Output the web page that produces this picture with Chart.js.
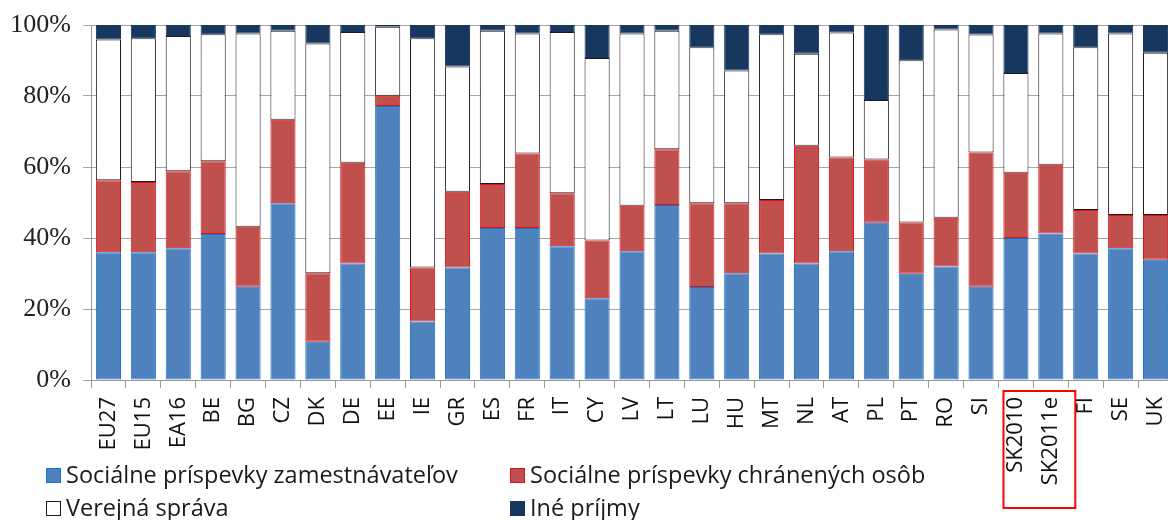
<!DOCTYPE html>
<html>
<head>
<meta charset="utf-8">
<script src="https://cdn.jsdelivr.net/npm/chart.js@4/dist/chart.umd.min.js"></script>
<style>
    html, body { margin: 0; padding: 0; background: #fff; overflow: hidden; }
    #revenueChart { display: block; }
</style>
</head>
<body>
<canvas id="revenueChart" width="1191" height="520"></canvas>
<script>
// Categories (countries / aggregates)
const COUNTRIES = ['EU27', 'EU15', 'EA16', 'BE', 'BG', 'CZ', 'DK', 'DE', 'EE', 'IE', 'GR', 'ES', 'FR', 'IT', 'CY',
    'LV', 'LT', 'LU', 'HU', 'MT', 'NL', 'AT', 'PL', 'PT', 'RO', 'SI', 'SK2010', 'SK2011e', 'FI', 'SE', 'UK'];

// Shares in % (stacked to 100)
const EMPLOYER = [36.0, 36.0, 37.1, 41.1, 26.3, 49.8, 10.8, 32.8, 77.2, 16.5, 31.7, 42.8, 42.8, 37.7, 23.0,
    36.3, 49.3, 26.2, 30.1, 35.6, 32.8, 36.3, 44.3, 29.9, 32.0, 26.3, 40.0, 41.3, 35.6, 37.1, 33.9];
const PROTECTED = [20.3, 19.8, 21.7, 20.5, 16.9, 23.5, 19.3, 28.4, 2.9, 15.2, 21.3, 12.4, 21.0, 14.9, 16.3,
    12.8, 15.7, 23.6, 19.7, 15.1, 33.2, 26.4, 17.8, 14.5, 13.7, 37.8, 18.4, 19.3, 12.3, 9.4, 12.6];
const GOVERNMENT = [39.6, 40.5, 38.1, 35.8, 54.4, 25.1, 64.7, 36.8, 19.4, 64.6, 35.3, 43.2, 33.8, 45.4, 51.4,
    48.5, 33.4, 43.9, 37.4, 46.7, 25.9, 35.2, 16.8, 45.7, 53.0, 33.2, 28.1, 37.0, 45.8, 51.1, 45.7];
const OTHER = [4.1, 3.7, 3.1, 2.6, 2.4, 1.6, 5.2, 2.0, 0.5, 3.7, 11.7, 1.6, 2.4, 2.0, 9.3,
    2.4, 1.6, 6.3, 12.8, 2.6, 8.1, 2.1, 21.1, 9.9, 1.3, 2.7, 13.5, 2.4, 6.3, 2.4, 7.8];

const Y_TICKS = [0, 20, 40, 60, 80, 100];

const SERIES = [
    { label: 'Sociálne príspevky zamestnávateľov', data: EMPLOYER, fill: '#4F81BD', border: '#1A75CF' },
    { label: 'Sociálne príspevky chránených osôb', data: PROTECTED, fill: '#C0504D', border: '#E01010' },
    { label: 'Verejná správa', data: GOVERNMENT, fill: '#FFFFFF', border: '#1a1a1a' },
    { label: 'Iné príjmy', data: OTHER, fill: '#17375E', border: '#17375E' }
];

const LABEL_FONT = '"Open Sans", Lato, sans-serif';

// Legend in two columns under the axis
const legendGrid = {
    id: 'legendGrid',
    afterDraw(chart) {
        const ctx = chart.ctx;
        const cols = [46, 510];
        const rows = [475, 508];
        ctx.save();
        ctx.font = '23.5px ' + LABEL_FONT;
        ctx.textBaseline = 'middle';
        SERIES.forEach((s, i) => {
            const x = cols[i % 2];
            const y = rows[Math.floor(i / 2)];
            ctx.fillStyle = s.fill;
            ctx.fillRect(x, y - 7, 15, 15);
            ctx.strokeStyle = s.border;
            ctx.lineWidth = 1;
            ctx.strokeRect(x + 0.5, y - 6.5, 14, 14);
            ctx.fillStyle = '#1a1a1a';
            ctx.fillText(s.label, x + 20, y + 1);
        });
        ctx.restore();
    }
};

// Red frame around the two Slovak labels
const skFrame = {
    id: 'skFrame',
    afterDraw(chart) {
        const xs = chart.scales.x;
        const half = (xs.getPixelForValue(1) - xs.getPixelForValue(0)) / 2;
        const i0 = COUNTRIES.indexOf('SK2010');
        const i1 = COUNTRIES.indexOf('SK2011e');
        const left = xs.getPixelForValue(i0) - half + 5;
        const right = xs.getPixelForValue(i1) + half + 7;
        const top = chart.chartArea.bottom + 11;
        const ctx = chart.ctx;
        ctx.save();
        ctx.strokeStyle = '#FF0000';
        ctx.lineWidth = 2;
        ctx.strokeRect(left, top, right - left, 508 - top);
        ctx.restore();
    }
};

const ctx = document.getElementById('revenueChart').getContext('2d');
new Chart(ctx, {
    type: 'bar',
    data: {
        labels: COUNTRIES,
        datasets: SERIES.map(s => ({
            label: s.label,
            data: s.data,
            backgroundColor: s.fill,
            borderColor: s.border,
            borderWidth: 1,
            borderSkipped: false,
            barPercentage: 0.72,
            categoryPercentage: 1.0
        }))
    },
    options: {
        responsive: false,
        animation: false,
        layout: { padding: { top: 14, right: 3, left: 0, bottom: 0 } },
        plugins: {
            legend: { display: false },
            tooltip: { enabled: false }
        },
        scales: {
            x: {
                stacked: true,
                grid: {
                    offset: true,
                    drawOnChartArea: false,
                    drawTicks: true,
                    tickLength: 8,
                    color: '#9a9a9a'
                },
                border: { color: '#9a9a9a' },
                ticks: {
                    autoSkip: false,
                    minRotation: 90,
                    maxRotation: 90,
                    padding: 9,
                    color: '#111',
                    font: { family: LABEL_FONT, size: 22 }
                },
                afterFit: (scale) => { scale.height = 140; }
            },
            y: {
                stacked: true,
                min: 0,
                max: 100,
                afterBuildTicks: (scale) => { scale.ticks = Y_TICKS.map(v => ({ value: v })); },
                grid: {
                    color: '#a6a6a6',
                    tickLength: 8
                },
                border: { color: '#9a9a9a' },
                ticks: {
                    padding: 12,
                    color: '#222',
                    font: { family: '"Liberation Serif", serif', size: 26, lineHeight: 1 },
                    callback: (v) => v + '%'
                },
                afterFit: (scale) => { scale.width = 91; }
            }
        }
    },
    plugins: [legendGrid, skFrame]
});
</script>
</body>
</html>
